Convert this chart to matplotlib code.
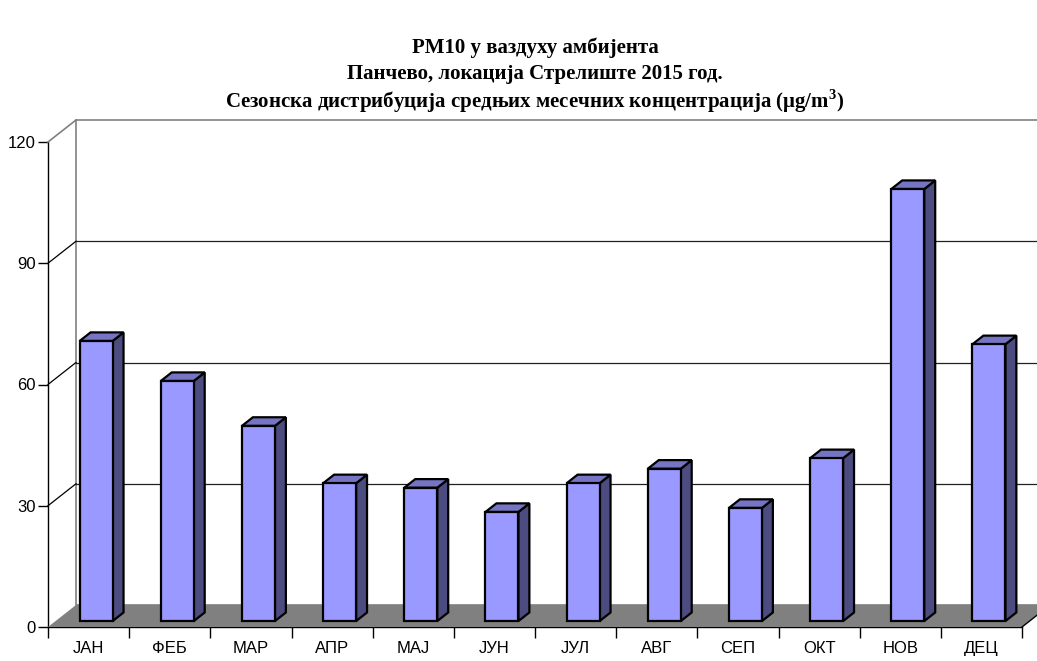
import matplotlib
matplotlib.use('Agg')
import matplotlib.pyplot as plt
from matplotlib.transforms import ScaledTranslation, IdentityTransform
from matplotlib.patches import Polygon
from matplotlib.lines import Line2D

# ---------------- data ----------------
months = ['ЈАН', 'ФЕБ', 'МАР', 'АПР', 'МАЈ', 'ЈУН', 'ЈУЛ', 'АВГ', 'СЕП', 'ОКТ', 'НОВ', 'ДЕЦ']
pm10 = [69.3, 59.4, 48.3, 34.1, 33.0, 27.0, 34.1, 37.7, 28.0, 40.3, 106.9, 68.5]
yticks = [0, 30, 60, 90, 120]
title_lines = ['PM10 у ваздуху амбијента',
               'Панчево, локација Стрелиште 2015 год.',
               r'Сезонска дистрибуција средњих месечних концентрација (μg/m$^{\mathbf{3}}$)']

# ---------------- style ----------------
plt.rcParams['mathtext.fontset'] = 'custom'
plt.rcParams['mathtext.rm'] = 'Liberation Serif'
plt.rcParams['mathtext.bf'] = 'Liberation Serif:bold'

DX, DY = 0.28, 0.22          # depth of the 3-D box (inches)
BAR_W = 0.406                # bar width (category units)
F0, F1 = 0.27, 0.66          # bar front / back depth fractions
FRONT, TOP, SIDE = '#9999FF', '#7575C4', '#4C4C80'
FLOOR = '#808080'

W, H = 1037, 661
fig = plt.figure(figsize=(W / 100, H / 100), dpi=100)
ax = fig.add_axes([48 / W, 34 / H, 974 / W, 485 / H])
ax.set_xlim(0, len(months))
ax.set_ylim(0, 120)
ax.patch.set_visible(False)
for s in ['top', 'right']:
    ax.spines[s].set_visible(False)
for s in ['left', 'bottom']:
    ax.spines[s].set_linewidth(1.0)
    ax.spines[s].set_color('black')
    ax.spines[s].set_zorder(10)

fig.canvas.draw()


def P(x, y, f):
    t = ax.transData + ScaledTranslation(f * DX, f * DY, fig.dpi_scale_trans)
    return t.transform((x, y))


def poly(pts, **kw):
    p = Polygon([P(*q) for q in pts], closed=True, transform=IdentityTransform(),
                clip_on=False, **kw)
    fig.add_artist(p)
    return p


def line(a, b, **kw):
    pa, pb = P(*a), P(*b)
    l = Line2D([pa[0], pb[0]], [pa[1], pb[1]], transform=IdentityTransform(),
               clip_on=False, **kw)
    fig.add_artist(l)


n = len(months)
ymax = yticks[-1]
# back wall
poly([(0, 0, 1), (n, 0, 1), (n, ymax, 1), (0, ymax, 1)], facecolor='white',
     edgecolor='#808080', lw=1.2, zorder=1)
# gridlines on back wall + left wall diagonals
for v in yticks[1:-1]:
    line((0, v, 1), (n, v, 1), color='#202020', lw=0.9, zorder=2)
    line((0, v, 0), (0, v, 1), color='black', lw=0.9, zorder=2)
line((0, ymax, 0), (0, ymax, 1), color='#808080', lw=1.2, zorder=2)
# floor
poly([(0, 0, 0), (n, 0, 0), (n, 0, 1), (0, 0, 1)], facecolor=FLOOR,
     edgecolor='none', zorder=3)
line((n, 0, 0), (n, 0, 1), color='black', lw=1.0, zorder=3)

# bars
for i, v in enumerate(pm10):
    x0 = i + 0.5 - BAR_W / 2
    x1 = i + 0.5 + BAR_W / 2
    kw = dict(edgecolor='black', lw=1.6, joinstyle='miter', zorder=5 + i * 0.01)
    poly([(x1, 0, F0), (x1, 0, F1), (x1, v, F1), (x1, v, F0)], facecolor=SIDE, **kw)
    poly([(x0, v, F0), (x1, v, F0), (x1, v, F1), (x0, v, F1)], facecolor=TOP, **kw)
    poly([(x0, 0, F0), (x1, 0, F0), (x1, v, F0), (x0, v, F0)], facecolor=FRONT, **kw)

# ticks
ax.set_yticks(yticks)
ax.set_yticklabels([str(t) for t in yticks], fontfamily='Liberation Sans', fontsize=12)
ax.tick_params(axis='y', direction='out', length=7, width=1, pad=2)
ax.set_xticks(range(n + 1))
ax.set_xticklabels([])
ax.set_xticks([i + 0.5 for i in range(n)], minor=True)
ax.set_xticklabels(months, minor=True, fontfamily='Liberation Sans', fontsize=12)
ax.tick_params(axis='x', which='major', direction='out', length=8, width=1)
ax.tick_params(axis='x', which='minor', length=0, pad=10)

# title
for txt, yp in zip(title_lines, [48, 74, 101]):
    fig.text(535 / W, 1 - yp / H, txt, ha='center', va='center',
             fontfamily='Liberation Serif', fontweight='bold', fontsize=15)

fig.savefig('out.png', dpi=100)
